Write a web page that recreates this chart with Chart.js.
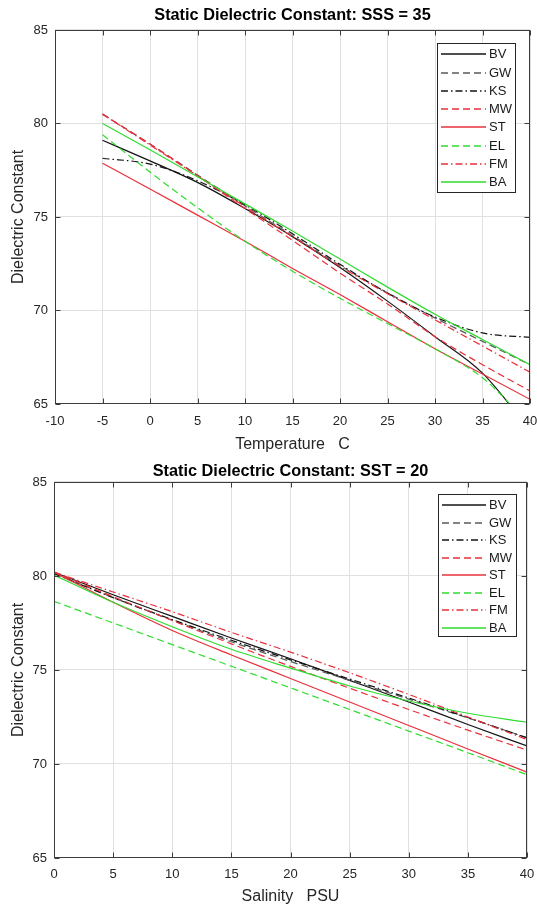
<!DOCTYPE html>
<html><head><meta charset="utf-8">
<script src="https://cdn.jsdelivr.net/npm/chart.js@4.4.1/dist/chart.umd.min.js"></script>
<style>
html,body{margin:0;padding:0;background:#fff;width:537px;height:906px;overflow:hidden}
canvas{position:absolute;left:0;display:block}
#c1{top:0}
#c2{top:455px}
</style></head>
<body>
<canvas id="c1" width="537" height="455" style="width:537px;height:455px"></canvas>
<canvas id="c2" width="537" height="451" style="width:537px;height:451px"></canvas>
<script>
// ---------- DATA ----------
const seriesNames = ['BV','GW','KS','MW','ST','EL','FM','BA'];

// Chart 1: Static dielectric constant vs temperature, SSS = 35
const tempC = [-5, 0, 5, 10, 15, 20, 25, 30, 35, 40];
const sss35_BV = [79.1, 78.0, 76.85, 75.45, 73.95, 72.3, 70.5, 68.6, 66.65, 63.6];
const sss35_GW = [80.5, 78.9, 77.25, 75.6, 74.0, 72.4, 70.95, 69.6, 68.35, 67.1];
const sss35_KS = [78.14, 77.83, 76.94, 75.65, 74.10, 72.47, 70.93, 69.65, 68.80, 68.56];
const sss35_MW = [80.5, 78.9, 77.2, 75.45, 73.75, 72.0, 70.35, 68.6, 67.1, 65.7];
const sss35_ST = [77.87, 76.5, 75.1, 73.7, 72.25, 70.85, 69.4, 67.95, 66.6, 65.25];
const sss35_EL = [79.4, 77.4, 75.5, 73.7, 72.1, 70.65, 69.3, 67.95, 66.4, 63.9];
const sss35_FM = [80.5, 78.85, 77.2, 75.55, 73.95, 72.35, 70.9, 69.5, 68.1, 66.7];
const sss35_BA = [80.0, 78.6, 77.15, 75.7, 74.25, 72.75, 71.25, 69.8, 68.45, 67.1];

// Chart 2: Static dielectric constant vs salinity, SST = 20
const salPSU = [0, 5, 10, 15, 20, 25, 30, 35, 40];
const sst20_BV = [80.2, 79.0, 77.85, 76.7, 75.6, 74.45, 73.3, 72.1, 70.96];
const sst20_GW = [80.15, 78.85, 77.65, 76.5, 75.45, 74.45, 73.45, 72.45, 71.4];
const sst20_KS = [80.13, 78.85, 77.68, 76.58, 75.54, 74.52, 73.51, 72.47, 71.39];
const sst20_MW = [80.22, 78.9, 77.63, 76.39, 75.19, 74.03, 72.9, 71.8, 70.74];
const sst20_ST = [80.2, 78.6, 77.1, 75.8, 74.55, 73.3, 72.05, 70.8, 69.57];
const sst20_EL = [78.65, 77.5, 76.35, 75.2, 74.05, 72.9, 71.75, 70.6, 69.43];
const sst20_FM = [80.2, 79.15, 78.1, 77.0, 75.95, 74.85, 73.7, 72.5, 71.3];
const sst20_BA = [80.05, 78.6, 77.3, 76.1, 75.1, 74.15, 73.35, 72.7, 72.22];

const yTicks = [65, 70, 75, 80, 85];
const tempTicks = [-10, -5, 0, 5, 10, 15, 20, 25, 30, 35, 40];
const salTicks = [0, 5, 10, 15, 20, 25, 30, 35, 40];

// ---------- STYLE ----------
const FONT = '"Liberation Sans", Arial, Helvetica, sans-serif';
const RED = '#e8303c', GREEN = '#2fdc2f', BLACK = '#141414', GRAY = '#5a5a5a';
const DASH = [7, 4], DASHDOT = [7, 3, 1.5, 3];
const styleOf = {
  BV: {c: BLACK, d: []},
  GW: {c: GRAY, d: DASH},
  KS: {c: BLACK, d: DASHDOT},
  MW: {c: RED, d: DASH},
  ST: {c: RED, d: []},
  EL: {c: GREEN, d: DASH},
  FM: {c: RED, d: DASHDOT},
  BA: {c: GREEN, d: []}
};

function buildDatasets(xs, arrays) {
  return seriesNames.map((name, i) => ({
    label: name,
    data: xs.map((x, k) => ({x: x, y: arrays[i][k]})),
    borderColor: styleOf[name].c,
    borderDash: styleOf[name].d,
    borderWidth: 1.2,
    pointRadius: 0,
    fill: false,
    cubicInterpolationMode: 'monotone',
    order: 8 - i
  }));
}

const decorPlugin = {
  id: 'decor',
  afterDraw(chart, args, o) {
    const {ctx, chartArea: a} = chart;
    const xs = chart.scales.x, ys = chart.scales.y;
    ctx.save();
    const L = Math.round(a.left) + 0.5, R = Math.round(a.right) - 0.5;
    const T = Math.round(a.top) + 0.5, B = Math.round(a.bottom) - 0.5;
    ctx.setLineDash([]);
    ctx.strokeStyle = '#3c3c3c';
    ctx.lineWidth = 1;
    ctx.beginPath();
    xs.ticks.forEach(t => {
      const p = Math.round(xs.getPixelForValue(t.value)) + 0.5;
      ctx.moveTo(p, B); ctx.lineTo(p, B - 5);
      ctx.moveTo(p, T); ctx.lineTo(p, T + 5);
    });
    ys.ticks.forEach(t => {
      const p = Math.round(ys.getPixelForValue(t.value)) + 0.5;
      ctx.moveTo(L, p); ctx.lineTo(L + 5, p);
      ctx.moveTo(R, p); ctx.lineTo(R - 5, p);
    });
    ctx.stroke();
    ctx.strokeRect(L, T, R - L, B - T);
    // legend box
    const [bx, by, bw, bh] = o.box;
    ctx.fillStyle = '#fff';
    ctx.fillRect(bx, by, bw, bh);
    ctx.strokeStyle = '#262626';
    ctx.lineWidth = 1;
    ctx.strokeRect(bx + 0.5, by + 0.5, bw, bh);
    ctx.font = '13px ' + FONT;
    ctx.textBaseline = 'middle';
    ctx.textAlign = 'left';
    chart.data.datasets.forEach((ds, i) => {
      const y = Math.round(o.y0 + i * o.dy);
      ctx.strokeStyle = ds.borderColor;
      ctx.lineWidth = 1.5;
      ctx.setLineDash(ds.borderDash);
      ctx.beginPath();
      ctx.moveTo(o.s0, y); ctx.lineTo(o.s1, y);
      ctx.stroke();
      ctx.setLineDash([]);
      ctx.fillStyle = '#1a1a1a';
      ctx.fillText(ds.label, o.tx, y);
    });
    ctx.restore();
  }
};

function makeChart(id, L) {
  const tickVals = L.xTicks;
  return new Chart(document.getElementById(id), {
    type: 'line',
    data: {datasets: buildDatasets(L.xs, L.arrays)},
    plugins: [decorPlugin],
    options: {
      responsive: false,
      animation: false,
      events: [],
      layout: {padding: {left: 0, top: 0, right: L.padRight, bottom: 0}},
      plugins: {
        legend: {display: false},
        tooltip: {enabled: false},
        title: {display: true, fullSize: false, text: L.title, color: '#000',
          font: {family: FONT, size: 16.3, weight: 'bold'},
          padding: {top: L.titleTop, bottom: L.titleBottom}},
        decor: L.legend
      },
      scales: {
        x: {
          type: 'linear', min: tickVals[0], max: tickVals[tickVals.length - 1],
          afterBuildTicks: s => { s.ticks = tickVals.map(v => ({value: v})); },
          ticks: {padding: L.xTickPad, color: '#262626', maxRotation: 0, autoSkip: false,
            font: {family: FONT, size: 13}},
          grid: {color: '#e0e0e0', drawTicks: false, lineWidth: 1},
          border: {display: false},
          title: {display: true, text: L.xTitle, color: '#262626',
            font: {family: FONT, size: 16}, padding: {top: 0, bottom: L.xTitlePad}},
          afterFit: s => { s.height = L.xHeight; s.paddingLeft = 0; s.paddingRight = 0; }
        },
        y: {
          type: 'linear', min: 65, max: 85,
          afterBuildTicks: s => { s.ticks = yTicks.map(v => ({value: v})); },
          ticks: {padding: 7, color: '#262626', font: {family: FONT, size: 13}},
          grid: {color: '#e0e0e0', drawTicks: false, lineWidth: 1},
          border: {display: false},
          title: {display: true, text: 'Dielectric Constant', color: '#262626',
            font: {family: FONT, size: 16}, padding: {top: 9.4, bottom: 0}},
          afterFit: s => { s.width = L.yWidth; s.paddingTop = 0; s.paddingBottom = 0; }
        }
      }
    }
  });
}

makeChart('c1', {
  xs: tempC,
  arrays: [sss35_BV, sss35_GW, sss35_KS, sss35_MW, sss35_ST, sss35_EL, sss35_FM, sss35_BA],
  xTicks: tempTicks,
  title: 'Static Dielectric Constant: SSS = 35',
  xTitle: 'Temperature   C',
  padRight: 7, titleTop: 5.4, titleBottom: 5.0,
  xHeight: 51, xTickPad: 10, xTitlePad: 0.6, yWidth: 55,
  legend: {box: [437, 43, 78, 149], y0: 54.3, dy: 18.25, s0: 441, s1: 486, tx: 489}
});

makeChart('c2', {
  xs: salPSU,
  arrays: [sst20_BV, sst20_GW, sst20_KS, sst20_MW, sst20_ST, sst20_EL, sst20_FM, sst20_BA],
  xTicks: salTicks,
  title: 'Static Dielectric Constant: SST = 20',
  xTitle: 'Salinity   PSU',
  padRight: 10, titleTop: 6.4, titleBottom: 1.0,
  xHeight: 48, xTickPad: 8.6, xTitlePad: 0, yWidth: 54,
  legend: {box: [438, 39, 78, 142], y0: 50, dy: 17.5, s0: 442, s1: 486, tx: 489}
});
</script>
</body></html>
